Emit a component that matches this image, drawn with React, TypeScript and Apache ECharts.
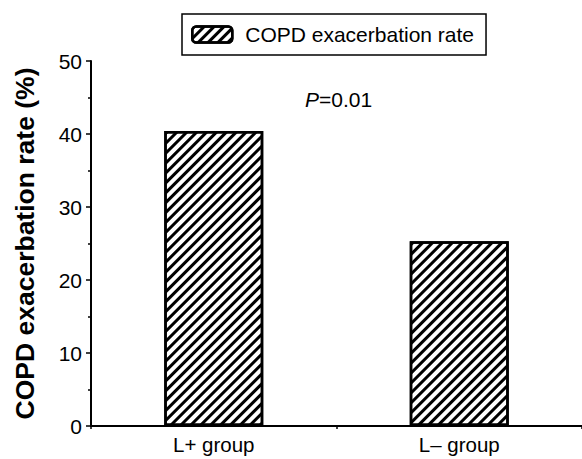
import React, { useEffect, useRef } from "react";
import * as echarts from "echarts";

const categories = ["L+ group", "L\u2013 group"];
const rates = [40.4, 25.3];
const yTicks = [0, 10, 20, 30, 40, 50];
const seriesName = "COPD exacerbation rate";
const pValue = "0.01";

export default function App() {
  const ref = useRef<HTMLDivElement>(null);
  useEffect(() => {
    if (!ref.current) return;
    const chart = echarts.init(ref.current, undefined, { renderer: "svg" });
    const font = "Liberation Sans, Arial, sans-serif";
    chart.setOption({
      animation: false,
      textStyle: { fontFamily: font, color: "#000" },
      legend: {
        left: 182,
        top: 14,
        data: [seriesName],
        icon: "roundRect",
        itemWidth: 40,
        itemHeight: 16,
        itemGap: 10,
        padding: [10, 12, 10, 9],
        borderColor: "#000",
        borderWidth: 1.5,
        borderRadius: 0,
        textStyle: { fontSize: 21, fontFamily: font, color: "#000", padding: [0, 0, 0, 8] },
        itemStyle: { borderColor: "#000", borderWidth: 2.5 },
      },
      grid: { left: 91, right: 0, top: 61, bottom: 33, containLabel: false },
      xAxis: [
        {
          type: "category",
          data: categories,
          axisLine: { lineStyle: { color: "#000", width: 2 } },
          axisTick: { alignWithLabel: true, length: 5, lineStyle: { color: "#000", width: 2 } },
          axisLabel: { fontSize: 20.5, color: "#000", fontFamily: font, margin: 8 },
        },
        {
          type: "category",
          data: categories,
          position: "bottom",
          axisLine: { show: false },
          axisTick: { show: true, length: 3, lineStyle: { color: "#000", width: 1.5 } },
          axisLabel: { show: false },
        },
      ],
      yAxis: {
        type: "value",
        min: yTicks[0],
        max: yTicks[yTicks.length - 1],
        interval: 10,
        name: "COPD exacerbation rate (%)",
        nameLocation: "middle",
        nameGap: 53,
        nameTextStyle: { fontSize: 26.5, fontWeight: "bold", color: "#000", fontFamily: font },
        axisLine: { show: true, lineStyle: { color: "#000", width: 2 } },
        axisTick: { show: true, length: 5, lineStyle: { color: "#000", width: 1.5 } },
        minorTick: { show: true, splitNumber: 2, length: 3, lineStyle: { color: "#000", width: 1.5 } },
        splitLine: { show: false },
        axisLabel: { fontSize: 21, color: "#000", fontFamily: font, margin: 9 },
      },
      series: [
        {
          name: seriesName,
          type: "bar",
          data: rates,
          barWidth: 99,
          itemStyle: {
            color: "#fff",
            borderColor: "#000",
            borderWidth: 2.5,
            decal: {
              symbol: "rect",
              symbolSize: 1,
              dashArrayX: [1, 0],
              dashArrayY: [3, 4],
              rotation: -Math.PI / 4,
              color: "#000",
            },
          },
        },
      ],
      graphic: [
        {
          type: "text",
          left: 305,
          top: 89,
          style: {
            text: "{i|P}=" + pValue,
            font: "21px " + font,
            fill: "#000",
            rich: {
              i: { fontStyle: "italic", fontSize: 21, fontFamily: font, fill: "#000" },
            },
          },
        },
      ],
    });
    return () => chart.dispose();
  }, []);
  return (
    <div
      ref={ref}
      style={{ position: "fixed", left: 0, top: 0, width: 582, height: 459, background: "#fff" }}
    />
  );
}
